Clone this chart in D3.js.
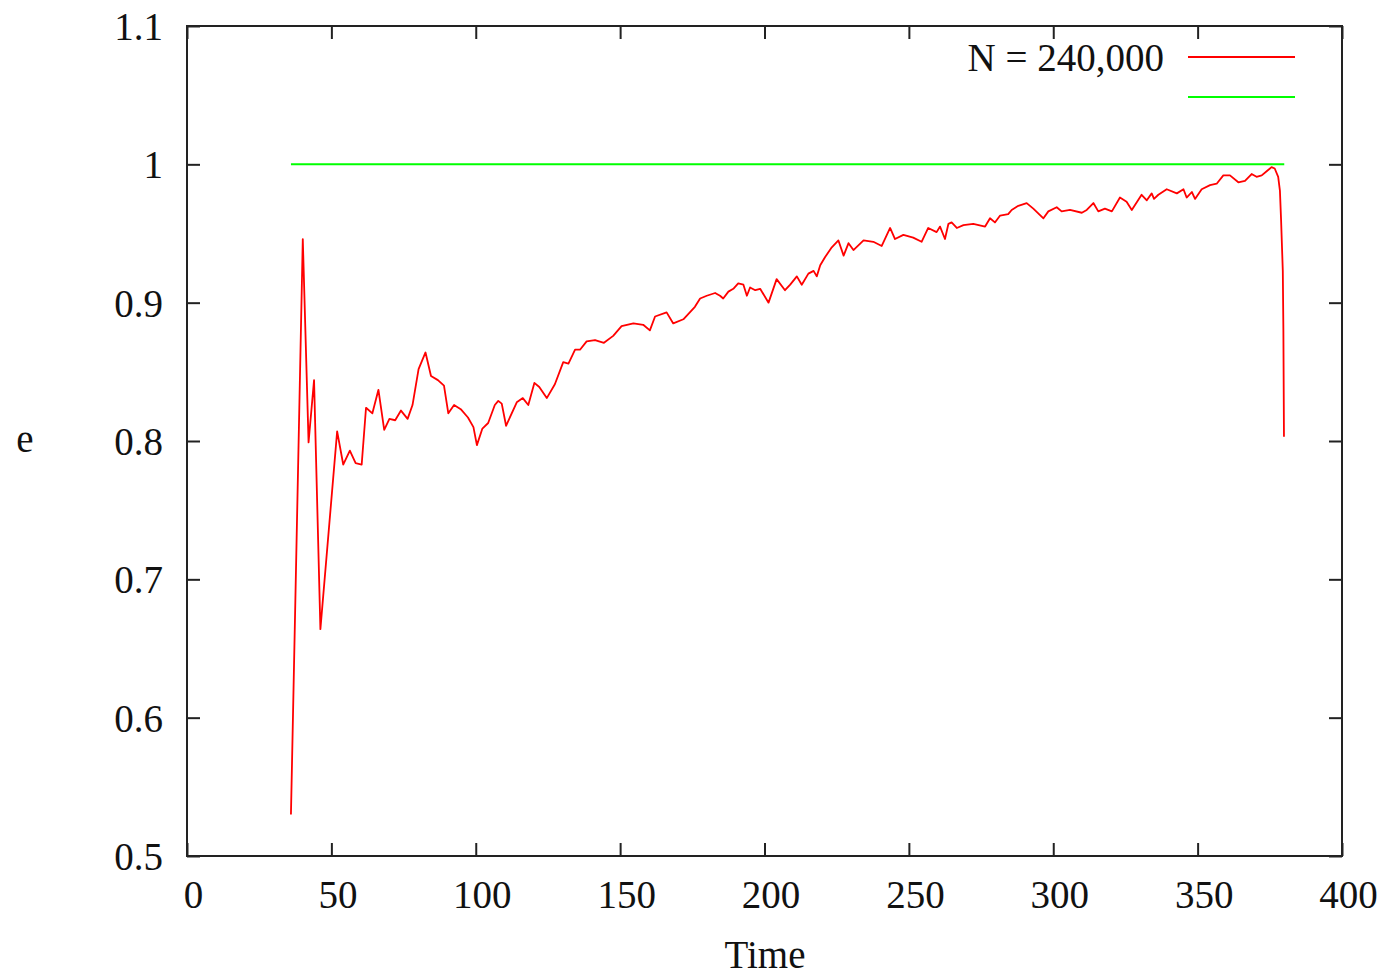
<!DOCTYPE html>
<html>
<head>
<meta charset="utf-8">
<script src="https://cdn.jsdelivr.net/npm/d3@7"></script>
<style>
    body { margin: 0; background: #fff; }
    svg text { font-family: "Liberation Serif", "Times New Roman", serif; fill: #111; }
</style>
</head>
<body>
<svg id="chart"></svg>
<script>
// time samples of the run
const timeVals = [
    36.0, 40.1, 42.1, 44.0, 46.2, 52.0, 54.1, 56.4, 58.4, 60.5,
    62.0, 64.2, 66.3, 68.3, 70.1, 72.1, 74.1, 76.4, 78.1, 80.2,
    82.6, 84.5, 86.9, 89.0, 90.5, 92.5, 94.8, 97.3, 99.2, 100.4,
    102.3, 104.3, 106.6, 107.8, 109.0, 110.5, 114.2, 116.3, 118.2, 120.3,
    122.0, 124.6, 127.4, 130.3, 132.1, 134.4, 136.1, 138.4, 141.3, 144.4,
    147.6, 150.5, 154.6, 158.0, 160.3, 162.1, 166.1, 168.4, 171.9, 175.9,
    177.7, 180.0, 182.9, 184.6, 185.7, 187.5, 189.2, 190.9, 192.7, 193.9,
    195.0, 196.8, 198.5, 201.4, 204.2, 207.1, 208.9, 211.2, 212.9, 215.2,
    217.0, 218.1, 219.3, 221.0, 223.3, 225.6, 227.4, 229.1, 230.8, 234.3,
    237.7, 240.6, 243.5, 245.2, 248.1, 251.5, 254.4, 256.7, 259.6, 260.8,
    262.5, 263.7, 264.8, 266.6, 268.9, 272.3, 276.4, 278.1, 279.8, 281.6,
    284.4, 285.6, 287.9, 290.8, 293.1, 296.6, 298.3, 301.2, 302.9, 305.8,
    309.9, 311.6, 313.9, 315.6, 317.9, 320.3, 323.1, 325.4, 327.2, 330.6,
    332.4, 334.1, 334.9, 336.4, 339.3, 342.8, 345.1, 346.2, 348.0, 349.1,
    351.4, 354.3, 356.6, 358.9, 361.2, 364.1, 366.4, 368.7, 370.4, 372.2,
    373.9, 375.6, 376.7, 377.9, 378.5, 378.9, 379.5, 379.7, 379.9
];
const eVals = [
    0.530, 0.946, 0.799, 0.844, 0.664, 0.807, 0.783, 0.793, 0.784, 0.783,
    0.824, 0.820, 0.837, 0.808, 0.816, 0.815, 0.822, 0.816, 0.826, 0.852,
    0.864, 0.847, 0.844, 0.840, 0.820, 0.826, 0.823, 0.817, 0.810, 0.797,
    0.809, 0.813, 0.826, 0.829, 0.827, 0.811, 0.828, 0.831, 0.826, 0.842,
    0.839, 0.831, 0.841, 0.857, 0.856, 0.866, 0.866, 0.872, 0.873, 0.871,
    0.876, 0.883, 0.885, 0.884, 0.880, 0.890, 0.893, 0.885, 0.888, 0.897,
    0.903, 0.905, 0.907, 0.905, 0.903, 0.908, 0.910, 0.914, 0.913, 0.905,
    0.911, 0.909, 0.910, 0.900, 0.917, 0.909, 0.913, 0.919, 0.913, 0.921,
    0.923, 0.919, 0.927, 0.933, 0.940, 0.945, 0.934, 0.943, 0.938, 0.945,
    0.944, 0.941, 0.954, 0.946, 0.949, 0.947, 0.944, 0.954, 0.951, 0.955,
    0.946, 0.957, 0.958, 0.954, 0.956, 0.957, 0.955, 0.961, 0.958, 0.963,
    0.964, 0.967, 0.970, 0.972, 0.968, 0.961, 0.966, 0.969, 0.966, 0.967,
    0.965, 0.967, 0.972, 0.966, 0.968, 0.966, 0.976, 0.973, 0.967, 0.978,
    0.974, 0.979, 0.975, 0.978, 0.982, 0.979, 0.982, 0.976, 0.980, 0.975,
    0.982, 0.985, 0.986, 0.992, 0.992, 0.987, 0.988, 0.993, 0.991, 0.992,
    0.995, 0.998, 0.997, 0.991, 0.981, 0.960, 0.923, 0.880, 0.803
];
// reference level e = 1
const refTime = [36.0, 380.0];
const refVals = [1.0, 1.0];

const xTicks = [0, 50, 100, 150, 200, 250, 300, 350, 400];
const yTicks = [0.5, 0.6, 0.7, 0.8, 0.9, 1.0, 1.1];
const legendLabels = ["N = 240,000", ""];

const width = 1385, height = 977;
const margin = {top: 26, right: 43, bottom: 121, left: 187};
const innerW = width - margin.left - margin.right;
const innerH = height - margin.top - margin.bottom;
const fontSize = "39px";

const svg = d3.select("#chart")
    .attr("width", width)
    .attr("height", height);

const g = svg.append("g")
    .attr("transform", `translate(${margin.left},${margin.top})`);

const x = d3.scaleLinear().domain([0, 400]).range([0, innerW]);
const y = d3.scaleLinear().domain([0.5, 1.1]).range([innerH, 0]);

// axes: ticks point inward, mirrored on top and right
const tick = 13;
g.append("g")
    .attr("transform", `translate(0,${innerH})`)
    .call(d3.axisBottom(x).tickValues(xTicks).tickSizeInner(-tick).tickSizeOuter(0).tickFormat(d3.format("d")))
    .call(a => a.selectAll("text").attr("y", 52).attr("dy", null).attr("dx", 6));
g.append("g")
    .call(d3.axisTop(x).tickValues(xTicks).tickSizeInner(-tick).tickSizeOuter(0).tickFormat(""));
g.append("g")
    .call(d3.axisLeft(y).tickValues(yTicks).tickSizeInner(-tick).tickSizeOuter(0).tickFormat(d => d3.format("")(+d.toFixed(1))))
    .call(a => a.selectAll("text").attr("x", -24).attr("dy", "0.35em"));
g.append("g")
    .attr("transform", `translate(${innerW},0)`)
    .call(d3.axisRight(y).tickValues(yTicks).tickSizeInner(-tick).tickSizeOuter(0).tickFormat(""));

g.selectAll(".domain").remove();
g.selectAll(".tick line").attr("stroke", "#222").attr("stroke-width", 2);
g.selectAll(".tick text")
    .style("font-size", fontSize)
    .style("font-family", "'Liberation Serif', 'Times New Roman', serif")
    .attr("fill", "#111");

g.append("rect")
    .attr("width", innerW)
    .attr("height", innerH)
    .attr("fill", "none")
    .attr("stroke", "#222")
    .attr("stroke-width", 2);

// series
const line = d3.line()
    .x(d => x(d[0]))
    .y(d => y(d[1]));

const eSeries = timeVals.map((t, i) => [t, eVals[i]]);
const refSeries = refTime.map((t, i) => [t, refVals[i]]);

g.append("path")
    .datum(refSeries)
    .attr("fill", "none")
    .attr("stroke", "#00ff00")
    .attr("stroke-width", 2)
    .attr("d", line);

g.append("path")
    .datum(eSeries)
    .attr("fill", "none")
    .attr("stroke", "#ff0000")
    .attr("stroke-width", 1.8)
    .attr("stroke-linejoin", "round")
    .attr("d", line);

// axis titles
svg.append("text")
    .attr("x", 765)
    .attr("y", 968)
    .attr("text-anchor", "middle")
    .style("font-size", fontSize)
    .text("Time");

svg.append("text")
    .attr("x", 25)
    .attr("y", 452)
    .attr("text-anchor", "middle")
    .style("font-size", fontSize)
    .text("e");

// legend
const legend = svg.append("g").attr("transform", "translate(1188,57)");
const legendColors = ["#ff0000", "#00ff00"];
legend.selectAll("line")
    .data(legendLabels)
    .enter().append("line")
    .attr("x1", 0)
    .attr("x2", 107)
    .attr("y1", (d, i) => i * 40)
    .attr("y2", (d, i) => i * 40)
    .attr("stroke", (d, i) => legendColors[i])
    .attr("stroke-width", 2);
legend.selectAll("text")
    .data(legendLabels)
    .enter().append("text")
    .attr("x", -24)
    .attr("y", (d, i) => i * 40 + 14)
    .attr("text-anchor", "end")
    .style("font-size", fontSize)
    .text(d => d);
</script>
</body>
</html>
